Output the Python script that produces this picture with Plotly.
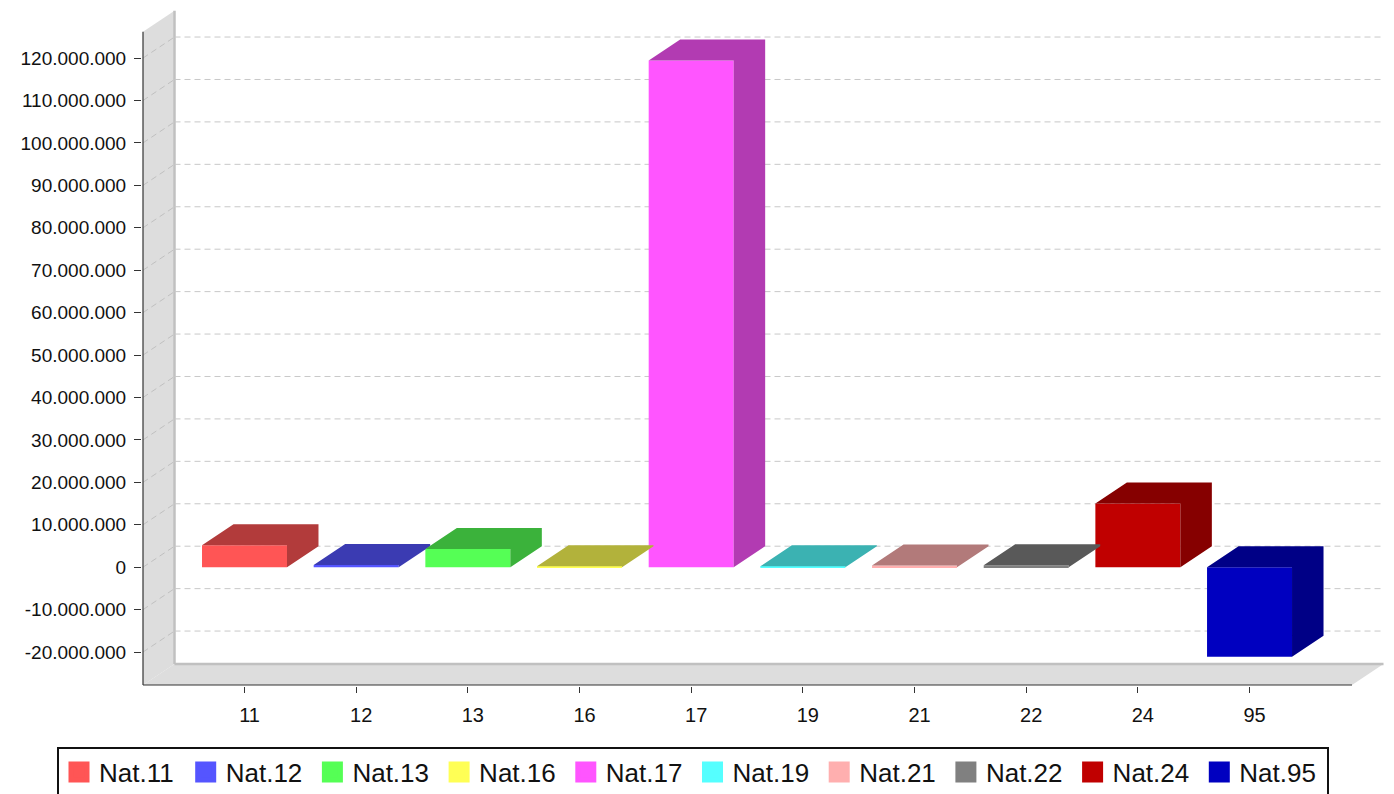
import plotly.graph_objects as go

# ---------------- data ----------------
categories = ["11", "12", "13", "16", "17", "19", "21", "22", "24", "95"]
series_names = ["Nat.11", "Nat.12", "Nat.13", "Nat.16", "Nat.17",
                "Nat.19", "Nat.21", "Nat.22", "Nat.24", "Nat.95"]
values = [5200000, 500000, 4300000, 200000, 119400000,
          200000, 400000, 450000, 15000000, -21100000]
tick_values = [-20000000, -10000000, 0, 10000000, 20000000, 30000000, 40000000,
               50000000, 60000000, 70000000, 80000000, 90000000, 100000000,
               110000000, 120000000]
tick_labels = ["-20.000.000", "-10.000.000", "0", "10.000.000", "20.000.000",
               "30.000.000", "40.000.000", "50.000.000", "60.000.000",
               "70.000.000", "80.000.000", "90.000.000", "100.000.000",
               "110.000.000", "120.000.000"]

# ---------------- styling ----------------
front_colors = ["#FF5555", "#5555FF", "#55FF55", "#FFFF55", "#FF55FF",
                "#55FFFF", "#FFAFAF", "#808080", "#C00000", "#0000C0"]
dark_colors = ["#B23B3B", "#3B3BB2", "#3BB23B", "#B2B23B", "#B23BB2",
               "#3BB2B2", "#B27A7A", "#595959", "#860000", "#000086"]

OFF = 8                      # page body margin
SCREEN_W, SCREEN_H = 1394, 794
W, H = SCREEN_W - OFF, SCREEN_H - OFF
PX_L, PX_R, PX_T, PX_B = 142, 1384, 10, 686
CAT0_PX, CAT_STEP = 244.5, 111.67          # px of first category centre, px per category
ZERO_PX, PX_PER_UNIT = 567.2, 4.243e-6      # px of value 0, px per value unit
DEPTH_X_PX, DEPTH_Y_PX = 31.5, 21.0
FRONT_L_PX, FRONT_R_PX, FRONT_T_PX, FRONT_B_PX = 143, 1352, 31.7, 685


def xd(px):
    return (px - CAT0_PX) / CAT_STEP


def yd(py):
    return (ZERO_PX - py) / PX_PER_UNIT


x_range = [xd(PX_L), xd(PX_R)]
y_range = [yd(PX_B), yd(PX_T)]
dx = DEPTH_X_PX / CAT_STEP
dy = DEPTH_Y_PX / PX_PER_UNIT
fl, fr, ft, fb = xd(FRONT_L_PX), xd(FRONT_R_PX), yd(FRONT_T_PX), yd(FRONT_B_PX)
bar_w = 0.761

fig = go.Figure()

# bar front faces
xs = list(range(len(categories)))
for i, (name, v) in enumerate(zip(series_names, values)):
    fig.add_trace(go.Bar(
        x=[xs[i]], y=[v], width=bar_w, name=name,
        marker=dict(color=front_colors[i], line=dict(width=0)),
        showlegend=False, hoverinfo="name+y"))

# bar top + side faces (3D effect)
for i, v in enumerate(values):
    x0, x1 = xs[i] - bar_w / 2, xs[i] + bar_w / 2
    top, bot = max(v, 0), min(v, 0)
    px = [x0, x0 + dx, x1 + dx, x1 + dx, x1, x1, x0]
    py = [top, top + dy, top + dy, bot + dy, bot, top, top]
    fig.add_trace(go.Scatter(
        x=px, y=py, mode="lines", fill="toself", fillcolor=dark_colors[i],
        line=dict(width=0, color=dark_colors[i]), hoverinfo="skip",
        showlegend=False))

# legend entries
for i, name in enumerate(series_names):
    fig.add_trace(go.Scatter(
        x=[None], y=[None], mode="markers", name=name,
        marker=dict(symbol="square", size=16, color=front_colors[i],
                    line=dict(width=5, color=front_colors[i]))))

shapes = []
# left wall and floor
shapes.append(dict(type="path", xref="x", yref="y", layer="below",
                   path=f"M{fl},{fb} L{fl},{ft} L{fl+dx},{ft+dy} L{fl+dx},{fb+dy} Z",
                   fillcolor="#DDDDDD", line=dict(width=0)))
shapes.append(dict(type="path", xref="x", yref="y", layer="below",
                   path=f"M{fl},{fb} L{fl+dx},{fb+dy} L{fr+dx},{fb+dy} L{fr},{fb} Z",
                   fillcolor="#DDDDDD", line=dict(width=0)))
# back plane edges
shapes.append(dict(type="line", xref="x", yref="y", layer="below",
                   x0=fl + dx, x1=fl + dx, y0=fb + dy, y1=ft + dy,
                   line=dict(color="#C0C0C0", width=2.5)))
shapes.append(dict(type="line", xref="x", yref="y", layer="below",
                   x0=fl + dx, x1=fr + dx, y0=fb + dy, y1=fb + dy,
                   line=dict(color="#C0C0C0", width=2.5)))
# grid lines on back plane and wall
for tv in tick_values:
    shapes.append(dict(type="line", xref="x", yref="y", layer="below",
                       x0=fl + dx, x1=fr + dx, y0=tv + dy, y1=tv + dy,
                       line=dict(color="#C8C8C8", width=1, dash="6px,4px")))
    shapes.append(dict(type="line", xref="x", yref="y", layer="below",
                       x0=fl, x1=fl + dx, y0=tv, y1=tv + dy,
                       line=dict(color="#C0C0C0", width=1, dash="6px,4px")))
# axis lines (front plane)
shapes.append(dict(type="line", xref="x", yref="y", layer="above",
                   x0=fl, x1=fl, y0=fb, y1=ft,
                   line=dict(color="#333333", width=1.2)))
shapes.append(dict(type="line", xref="x", yref="y", layer="above",
                   x0=fl, x1=fr, y0=fb, y1=fb,
                   line=dict(color="#333333", width=1.2)))

fig.update_layout(
    width=W, height=H,
    margin=dict(l=PX_L - OFF, r=SCREEN_W - PX_R, t=PX_T - OFF, b=SCREEN_H - PX_B,
                autoexpand=False),
    paper_bgcolor="white", plot_bgcolor="white",
    font=dict(family="Liberation Sans, Arial, sans-serif", color="#111111"),
    barmode="overlay",
    shapes=shapes,
    showlegend=True,
    legend=dict(
        orientation="h", x=(57 - PX_L) / (PX_R - PX_L), xanchor="left",
        y=(PX_B - 746.5) / (PX_B - PX_T), yanchor="top",
        bordercolor="#111111", borderwidth=2, bgcolor="white",
        font=dict(size=26, color="#111111"),
        entrywidth=81.7, entrywidthmode="pixels", itemwidth=30,
    ),
    xaxis=dict(
        range=x_range, showgrid=False, zeroline=False, showline=False,
        tickmode="array", tickvals=xs, ticktext=categories,
        ticks="outside", ticklen=6, tickcolor="#333333", tickwidth=1,
        tickfont=dict(size=20, color="#111111"), ticklabelstandoff=5,
        ticklabelshift=5, fixedrange=True),
    yaxis=dict(
        range=y_range, showgrid=False, zeroline=False, showline=False,
        tickmode="array", tickvals=tick_values, ticktext=tick_labels,
        ticks="outside", ticklen=7, tickcolor="#333333", tickwidth=1,
        tickfont=dict(size=19, color="#111111"), ticklabelstandoff=4,
        fixedrange=True),
)

fig.write_html("out.html")
